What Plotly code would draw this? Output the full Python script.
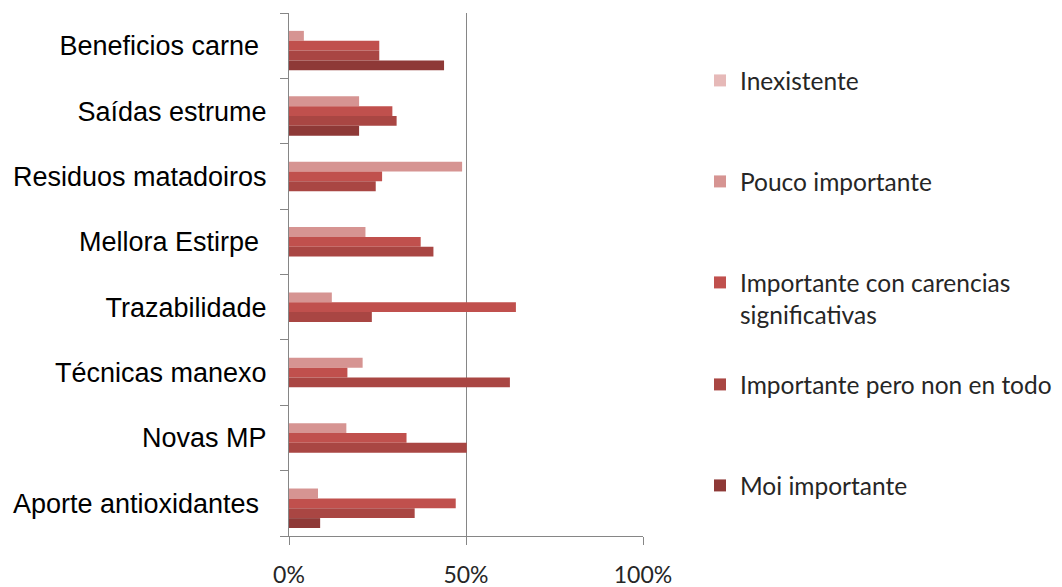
import plotly.graph_objects as go

categories = ["Beneficios carne", "Saídas estrume", "Residuos matadoiros", "Mellora Estirpe",
              "Trazabilidade", "Técnicas manexo", "Novas MP", "Aporte antioxidantes"]
tick_labels = ["Beneficios carne\u00a0", "Saídas estrume", "Residuos matadoiros", "Mellora Estirpe\u00a0",
               "Trazabilidade", "Técnicas manexo", "Novas MP", "Aporte antioxidantes\u00a0"]

series_names = ["Inexistente", "Pouco importante", "Importante con carencias<br>significativas",
                "Importante pero non en todo", "Moi importante"]

inexistente = [0, 0, 0, 0, 0, 0, 0, 0]
pouco = [4.2, 19.8, 48.9, 21.6, 12.1, 20.8, 16.2, 8.2]
carencias = [25.5, 29.2, 26.3, 37.2, 64.1, 16.5, 33.2, 47.1]
pero_non = [25.5, 30.4, 24.5, 40.8, 23.4, 62.4, 50.2, 35.5]
moi = [43.8, 19.8, 0, 0, 0, 0, 0, 8.8]

x_ticks = [0, 50, 100]
x_tick_labels = ["0%", "50%", "100%"]

values = [inexistente, pouco, carencias, pero_non, moi]
colors = ["#E6B9B8", "#D69492", "#C0504D", "#A94643", "#8E3937"]
legend_ids = ["legend", "legend2", "legend3", "legend4", "legend5"]
legend_y = [82, 183, 284, 386, 487]

fig = go.Figure()
for name, vals, col, lid in zip(series_names, values, colors, legend_ids):
    fig.add_trace(go.Bar(
        y=categories, x=vals, name=name, orientation="h",
        marker=dict(color=col, line=dict(width=0)),
        legend=lid,
    ))

# page has an 8px body margin; figure sized so it ends at the window edge
W, H = 1054, 579
leg_font = dict(family="Lato, Carlito, sans-serif", size=24.5, color="#262626")
layout_legends = {}
for lid, yc in zip(legend_ids, legend_y):
    layout_legends[lid] = dict(
        x=692 / W, y=1 - (yc - 32) / H, xref="container", yref="container",
        xanchor="left", yanchor="top", font=leg_font, bgcolor="rgba(0,0,0,0)",
        valign="top", borderwidth=0, tracegroupgap=0,
    )

fig.update_layout(
    width=W, height=H,
    margin=dict(l=281, r=W - 635, t=5, b=51, autoexpand=False),
    paper_bgcolor="white", plot_bgcolor="white",
    barmode="group", bargap=0.245, bargroupgap=0,
    showlegend=True,
    **layout_legends,
)

fig.update_xaxes(
    range=[0, 100], tickvals=x_ticks, ticktext=x_tick_labels,
    showgrid=True, gridcolor="#868686", gridwidth=1,
    zeroline=False, showline=True, linecolor="#868686", linewidth=1,
    ticks="outside", ticklen=8, tickcolor="#868686",
    tickfont=dict(family="Lato, Carlito, sans-serif", size=23, color="#262626"),
    ticklabelstandoff=10, fixedrange=True, automargin=False,
)
fig.update_yaxes(
    type="category", categoryorder="array", categoryarray=categories,
    tickvals=categories, ticktext=tick_labels,
    autorange="reversed", tickson="boundaries",
    showgrid=False, zeroline=False, showline=True, linecolor="#868686", linewidth=1,
    ticks="outside", ticklen=8, tickcolor="#868686",
    tickfont=dict(family="Liberation Sans, Arial, sans-serif", size=27, color="#000000"),
    ticklabelstandoff=16, fixedrange=True, automargin=False,
)

fig.write_html("out.html")
